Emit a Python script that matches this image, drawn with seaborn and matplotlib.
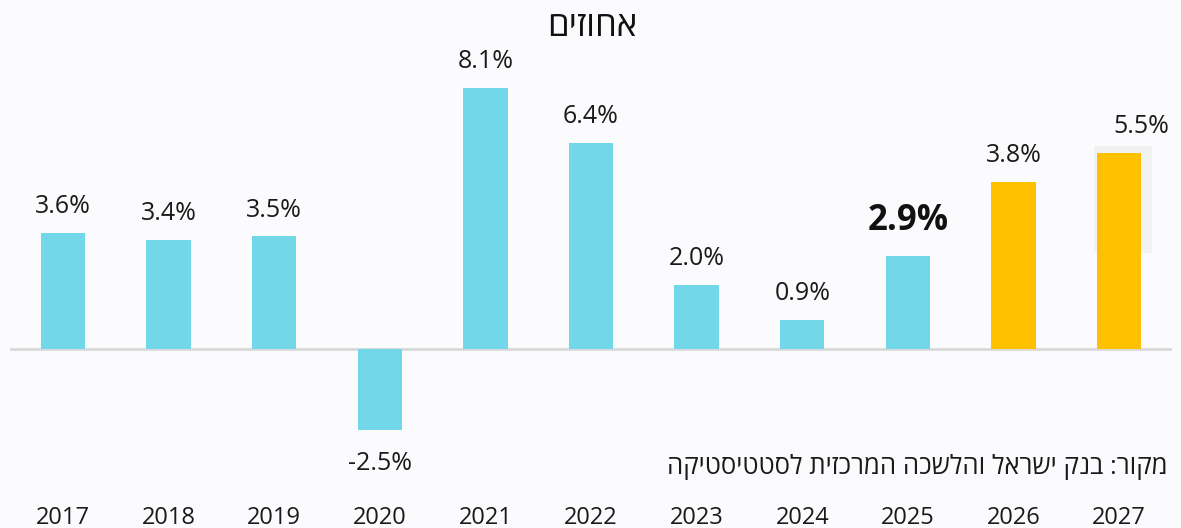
import numpy as np
import pandas as pd
import matplotlib.pyplot as plt
from matplotlib.patches import Rectangle
import seaborn as sns

# data
years = ['2017', '2018', '2019', '2020', '2021', '2022', '2023', '2024', '2025', '2026', '2027']
bar_heights = [3.6, 3.4, 3.5, -2.5, 8.1, 6.4, 2.0, 0.9, 2.9, 5.2, 6.1]
bar_labels = ['3.6%', '3.4%', '3.5%', '-2.5%', '8.1%', '6.4%', '2.0%', '0.9%', '2.9%', '3.8%', '5.5%']
kind = ['actual'] * 9 + ['forecast'] * 2

title_he = 'אחוזים'
source_he = 'מקור: בנק ישראל והלשכה המרכזית לסטטיסטיקה'


def rtl(s):
    # matplotlib has no bidi, so flip hebrew strings for display
    return s[::-1]


sns.set_theme(style='white')
plt.rcParams['font.family'] = ['Open Sans', 'DejaVu Sans']

df = pd.DataFrame({'year': years, 'value': bar_heights, 'kind': kind})

bg = '#FBFBFD'
fig = plt.figure(figsize=(11.81, 5.28), dpi=100, facecolor=bg)
ax = fig.add_axes([10 / 1181, 28 / 528, 1162 / 1181, 500 / 528])
ax.set_facecolor(bg)

sns.barplot(data=df, x='year', y='value', hue='kind',
            palette={'actual': '#72D7E8', 'forecast': '#FFC000'},
            width=0.42, dodge=False, legend=False, saturation=1, ax=ax, zorder=3,
            edgecolor='none', linewidth=0)

ax.set_xlim(-0.5, len(years) - 0.5)
ax.set_ylim(-4.67, 10.83)
ax.axhline(0, color='#D9D9D9', lw=2, zorder=2)

# light box behind the last bar
last = len(years) - 1
ax.add_patch(Rectangle((last - 0.235, bar_heights[last] - 3.11), 0.55, 3.3,
                       facecolor='#F2F2F2', edgecolor='none', zorder=1))

for i, (h, lab) in enumerate(zip(bar_heights, bar_labels)):
    if h < 0:
        ax.annotate(lab, (i, h), xytext=(0, -24), textcoords='offset points',
                    ha='center', va='center', fontsize=18, color='#1a1a1a')
    elif years[i] == '2025':
        ax.annotate(lab, (i, h), xytext=(0, 25), textcoords='offset points',
                    ha='center', va='center', fontsize=25, fontweight='bold', color='#111111')
    elif years[i] == '2027':
        ax.annotate(lab, (i, h), xytext=(16, 19), textcoords='offset points',
                    ha='center', va='center', fontsize=18, color='#1a1a1a')
    else:
        ax.annotate(lab, (i, h), xytext=(0, 19), textcoords='offset points',
                    ha='center', va='center', fontsize=18, color='#1a1a1a')

ax.set_xlabel('')
ax.set_ylabel('')
ax.set_yticks([])
ax.tick_params(axis='x', length=0, pad=4, labelsize=17, labelcolor='#1a1a1a')
sns.despine(ax=ax, left=True, bottom=True)

fig.text(592 / 1181, 1 - 27 / 528, rtl(title_he), ha='center', va='center',
         fontsize=25, color='#111111')
fig.text(1168 / 1181, 1 - 467 / 528, rtl(source_he), ha='right', va='center',
         fontsize=18.5, color='#1a1a1a')

fig.savefig('out.png', dpi=100, facecolor=bg)
